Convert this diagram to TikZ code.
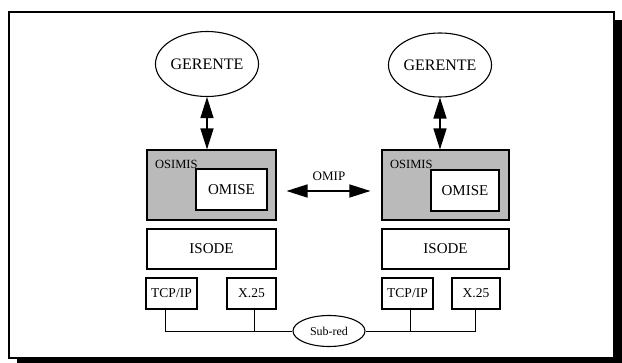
\documentclass[tikz,border=0pt]{standalone}
\usepackage{fontspec}
\setmainfont{Liberation Serif}
\usetikzlibrary{arrows.meta,shapes.geometric}
\begin{document}
\begin{tikzpicture}[x=1pt,y=-1pt,
  box/.style={draw,line width=1.1pt,inner sep=0pt},
  shade/.style={box,fill=black!27},
  oval/.style={draw,line width=1.1pt,ellipse,inner sep=0pt},
  dbl/.style={line width=1.4pt,{Triangle[length=21pt,width=13pt]}-{Triangle[length=21pt,width=13pt]}},
  wire/.style={line width=0.9pt}]
\useasboundingbox (0,0) rectangle (622,363);
\fill[white] (0,0) rectangle (622,363);
% frame and shadow
\fill[black] (17,358) rectangle (622,363);
\fill[black] (614,20) rectangle (622,363);
\draw[line width=1.3pt] (9,12) rectangle (614,358);
% managers
\node[oval,minimum width=98pt,minimum height=65pt,font=\fontsize{16}{18}\selectfont] (gerL) at (207,64) {GERENTE};
\node[oval,minimum width=98pt,minimum height=64pt,font=\fontsize{16}{18}\selectfont] (gerR) at (440,65) {GERENTE};
% OSIMIS boxes
\node[shade,minimum width=129pt,minimum height=70pt] (osL) at (211.5,185) {};
\node[shade,minimum width=127pt,minimum height=70pt] (osR) at (445.5,185) {};
\node[anchor=base west,inner sep=0pt,font=\fontsize{12.5}{14}\selectfont] (osLt) at (155,169) {OSIMIS};
\node[anchor=base west,inner sep=0pt,font=\fontsize{12.5}{14}\selectfont] (osRt) at (390,169) {OSIMIS};
\node[box,fill=white,minimum width=71pt,minimum height=41pt,font=\fontsize{15}{17}\selectfont] (omL) at (231.5,189.5) {OMISE};
\node[box,fill=white,minimum width=68pt,minimum height=41pt,font=\fontsize{15}{17}\selectfont] (omR) at (465,190.5) {OMISE};
% ISODE
\node[box,minimum width=129pt,minimum height=40pt,font=\fontsize{15}{17}\selectfont] (isL) at (211.5,249) {ISODE};
\node[box,minimum width=127pt,minimum height=40pt,font=\fontsize{15}{17}\selectfont] (isR) at (445.5,249) {ISODE};
% transport
\node[box,minimum width=51pt,minimum height=31pt,font=\fontsize{13.5}{15}\selectfont] (tcpL) at (171.5,293.5) {TCP/IP};
\node[box,minimum width=49pt,minimum height=31pt,font=\fontsize{13.5}{15}\selectfont] (xL) at (251.5,293.5) {X.25};
\node[box,minimum width=51pt,minimum height=31pt,font=\fontsize{13.5}{15}\selectfont] (tcpR) at (407.5,293.5) {TCP/IP};
\node[box,minimum width=48pt,minimum height=31pt,font=\fontsize{13.5}{15}\selectfont] (xR) at (476,293.5) {X.25};
% subnet
\node[oval,minimum width=72pt,minimum height=31pt,font=\fontsize{12}{14}\selectfont] (sub) at (329,331) {Sub-red};
\draw[wire] ([xshift=-6.5pt]tcpL.south) |- (sub.west);
\draw[wire] ([xshift=2.5pt]xL.south) |- (sub.west);
\draw[wire] ([xshift=2.5pt]tcpR.south) |- (sub.east);
\draw[wire] ([xshift=-1pt]xR.south) |- (sub.east);
% arrows
\draw[dbl] (gerL.south) -- (gerL.south |- osL.north);
\draw[dbl] (gerR.south) -- (gerR.south |- osR.north);
\coordinate (omipA) at ([shift={(10pt,-6pt)}]osL.east);
\coordinate (omipB) at ([shift={(-11pt,-6pt)}]osR.west);
\draw[dbl] (omipA) -- (omipB);
\node[font=\fontsize{13}{15}\selectfont] (omip) at (329,176) {OMIP};
\end{tikzpicture}
\end{document}
